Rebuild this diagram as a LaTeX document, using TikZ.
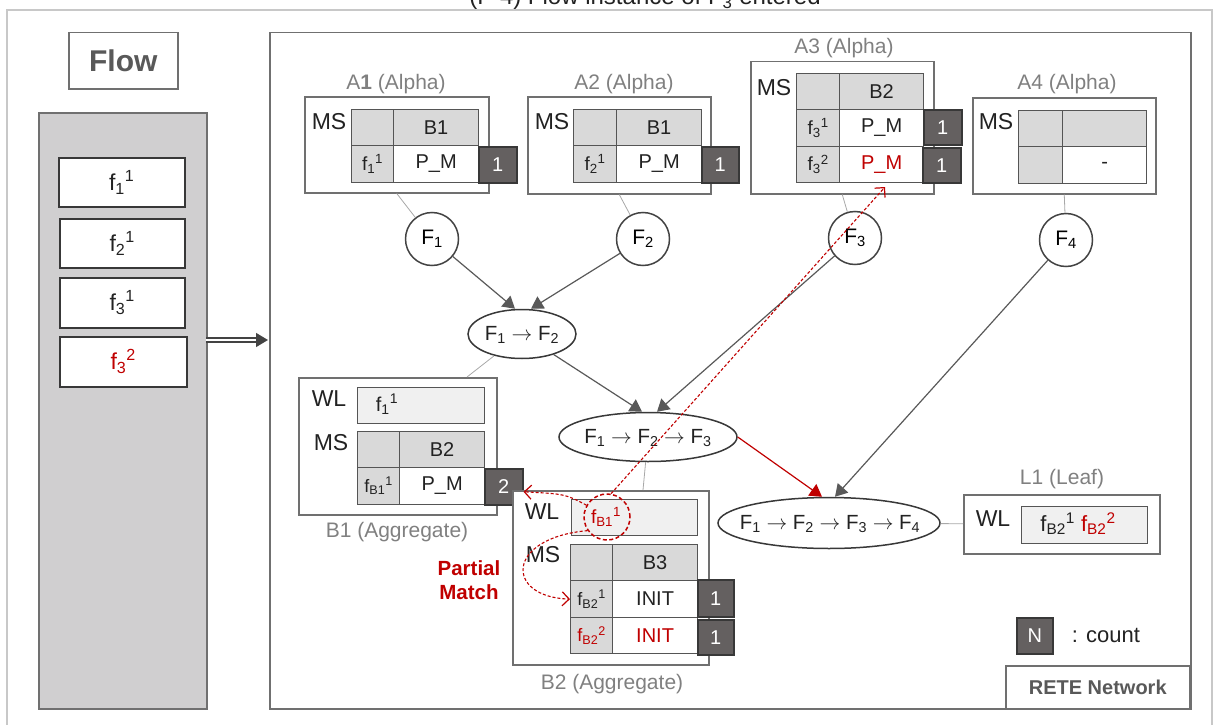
\documentclass[tikz,border=0pt]{standalone}
\usepackage{fontspec}
\setmainfont{Liberation Sans}
\usetikzlibrary{arrows.meta,shapes.geometric,calc}
\definecolor{frm}{HTML}{707070}
\definecolor{lbl}{HTML}{808080}
\definecolor{cellg}{HTML}{D9D9D9}
\definecolor{celld}{HTML}{555555}
\definecolor{wlf}{HTML}{F0F0F0}
\definecolor{cntf}{HTML}{646060}
\definecolor{cntd}{HTML}{383838}
\definecolor{rd}{HTML}{C00000}
\definecolor{ink}{HTML}{222222}
\definecolor{flowg}{HTML}{D0CFD0}
\definecolor{outerc}{HTML}{C8C8C8}
\definecolor{thinc}{HTML}{A8A8A8}
\newcommand{\ff}[2]{f\textsubscript{#1}\textsuperscript{#2}}
\newcommand{\mkcell}[6]{\node[#1, minimum width=#4, minimum height=#5, anchor=north west] (#2) at (#3) {#6};}
\tikzset{
  box/.style={draw=frm, line width=1.5pt, fill=white, inner sep=0pt, anchor=north west},
  lab/.style={text=lbl, inner sep=0pt, font=\fontsize{21}{24}\selectfont},
  tag/.style={text=ink, inner sep=0pt, font=\fontsize{23}{27}\selectfont},
  cellbase/.style={draw=celld, line width=1.2pt, inner sep=0pt, text=ink, font=\fontsize{20}{24}\selectfont},
  gcell/.style={cellbase, fill=cellg},
  wcell/.style={cellbase, fill=white},
  wlcell/.style={cellbase, fill=wlf},
  cnt/.style={draw=cntd, fill=cntf, line width=1.5pt, text=white, inner sep=0pt, anchor=north west, font=\fontsize{20}{24}\selectfont},
  circ/.style={circle, draw=ink!85, line width=1.5pt, fill=white, minimum size=53pt, inner sep=0pt, font=\fontsize{21}{24}\selectfont},
  ell/.style={ellipse, draw=ink!90, line width=1.5pt, fill=white, inner sep=0pt},
  elltxt/.style={inner sep=0pt, text=ink, font=\fontsize{20.5}{24}\selectfont},
  arr/.style={draw=ink!75, line width=1.2pt, -{Triangle[length=12pt,width=14pt]}},
  thinln/.style={draw=thinc, line width=0.8pt},
  rdarr/.style={draw=rd, line width=1.1pt, dash pattern=on 3pt off 2pt, -{Straight Barb[length=7pt,width=14pt,line width=1.2pt]}},
  item/.style={draw=ink!90, line width=1.5pt, fill=white, inner sep=0pt, anchor=north west, text=ink, font=\fontsize{23}{27}\selectfont},
  txt/.style={inner sep=0pt, text=ink, font=\fontsize{19}{23}\selectfont},
}
\begin{document}
\begin{tikzpicture}[x=1pt,y=-1pt]
\useasboundingbox (0,0) rectangle (1228,725);
% title (clipped at the top, as in the reference)
\node[anchor=base, inner sep=0pt, text=ink, font=\fontsize{24}{28}\selectfont] (title) at (645,5) {(F-4) Flow instance of F\textsubscript{3} entered};
% outer light frame
\draw[draw=outerc, line width=1.5pt] (7,725) -- (7,10) -- (1212,10) -- (1212,725);

% ---------------- Flow side ----------------
\node[box, minimum width=109pt, minimum height=56pt, text=ink!75, font=\bfseries\fontsize{30}{34}\selectfont] (flowlbl) at (68,32) {Flow};
\node[draw=frm, line width=1.8pt, fill=flowg, inner sep=0pt, anchor=north west, minimum width=168pt, minimum height=596pt] (col) at (38,112) {};
\node[item, minimum width=126pt, minimum height=49pt] (fi1) at (58,157) {\ff{1}{1}};
\node[item, minimum width=125pt, minimum height=49pt] (fi2) at (59,218) {\ff{2}{1}};
\node[item, minimum width=125pt, minimum height=50pt] (fi3) at (59,277) {\ff{3}{1}};
\node[item, minimum width=127pt, minimum height=50pt, text=rd] (fi4) at (59,336) {\ff{3}{2}};

% ---------------- RETE frame ----------------
\node[box, fill=none, minimum width=921pt, minimum height=676pt] (rete) at (269,32) {};
\node[box, minimum width=184pt, minimum height=43pt, text=ink!75, font=\bfseries\fontsize{20}{24}\selectfont] (retelbl) at (1005,665) {RETE Network};

\coordinate (da) at (206,340);
\coordinate (db) at (268,340);
\draw[draw=ink!85, double=white, double distance=2.5pt, line width=1.3pt, -{Triangle[length=12pt,width=14pt]}] (da) -- (db);

% ---------------- A1 ----------------
\node[box, minimum width=184pt, minimum height=96pt] (a1) at (304,96) {};
\node[lab] (a1l) at (396,84) {A\textbf{1} (Alpha)};
\node[tag] (a1ms) at (329,122) {MS};
\mkcell{gcell}{a1h0}{351,109}{42pt}{36pt}{}
\mkcell{gcell}{a1h1}{393,109}{85pt}{36pt}{B1}
\mkcell{gcell, font=\fontsize{19}{22}\selectfont}{a1r0}{351,145}{42pt}{37pt}{\ff{1}{1}}
\mkcell{wcell}{a1r1}{393,145}{85pt}{37pt}{P\_M}
\node[cnt, minimum width=38pt, minimum height=36pt] (a1c) at (478,146) {1};

% ---------------- A2 ----------------
\node[box, minimum width=183pt, minimum height=97pt] (a2) at (527,96) {};
\node[lab] (a2l) at (624,84) {A2 (Alpha)};
\node[tag] (a2ms) at (552,122) {MS};
\mkcell{gcell}{a2h0}{573,109}{43pt}{36pt}{}
\mkcell{gcell}{a2h1}{616,109}{85pt}{36pt}{B1}
\mkcell{gcell, font=\fontsize{19}{22}\selectfont}{a2r0}{573,145}{43pt}{37pt}{\ff{2}{1}}
\mkcell{wcell}{a2r1}{616,145}{85pt}{37pt}{P\_M}
\node[cnt, minimum width=37pt, minimum height=36pt] (a2c) at (701,146) {1};

% ---------------- A3 ----------------
\node[box, minimum width=183pt, minimum height=132pt] (a3) at (750,61) {};
\node[lab] (a3l) at (844,48) {A3 (Alpha)};
\node[tag] (a3ms) at (774,88) {MS};
\mkcell{gcell}{a3h0}{796,73}{43pt}{36pt}{}
\mkcell{gcell}{a3h1}{839,73}{84pt}{36pt}{B2}
\mkcell{gcell, font=\fontsize{19}{22}\selectfont}{a3r0}{796,109}{43pt}{37pt}{\ff{3}{1}}
\mkcell{wcell}{a3r1}{839,109}{84pt}{37pt}{P\_M}
\mkcell{gcell, font=\fontsize{19}{22}\selectfont}{a3s0}{796,146}{43pt}{36pt}{\ff{3}{2}}
\mkcell{wcell, text=rd}{a3s1}{839,146}{84pt}{36pt}{P\_M}
\node[cnt, minimum width=38pt, minimum height=35pt] (a3c1) at (923,109) {1};
\node[cnt, minimum width=38pt, minimum height=35pt] (a3c2) at (922,147) {1};

% ---------------- A4 ----------------
\node[box, minimum width=183pt, minimum height=96pt] (a4) at (972,97) {};
\node[lab] (a4l) at (1067,84) {A4 (Alpha)};
\node[tag] (a4ms) at (996,122) {MS};
\mkcell{gcell}{a4h0}{1018,110}{44pt}{36pt}{}
\mkcell{gcell}{a4h1}{1062,110}{84pt}{36pt}{}
\mkcell{gcell}{a4r0}{1018,146}{44pt}{37pt}{}
\mkcell{wcell}{a4r1}{1062,146}{84pt}{37pt}{-}

% ---------------- circles and joins ----------------
\node[circ] (F1) at (432,239) {F\textsubscript{1}};
\node[circ] (F2) at (643,239) {F\textsubscript{2}};
\node[circ] (F3) at (855,238) {F\textsubscript{3}};
\node[circ] (F4) at (1066,240) {F\textsubscript{4}};
\draw[thinln] (a1.south) -- (F1);
\draw[thinln] (a2.south) -- (F2);
\draw[thinln] (a3.south) -- (F3);
\draw[thinln] (a4.south) -- (F4);

\node[ell, minimum width=108pt, minimum height=49pt] (E12) at (522,334) {};
\node[elltxt] (E12t) at (522,335) {F\textsubscript{1} $\rightarrow$ F\textsubscript{2}};
\node[ell, minimum width=178pt, minimum height=49pt] (E123) at (648,437) {};
\node[elltxt] (E123t) at (648,438) {F\textsubscript{1} $\rightarrow$ F\textsubscript{2} $\rightarrow$ F\textsubscript{3}};
\node[ell, minimum width=222pt, minimum height=51pt] (E1234) at (829,523) {};
\node[elltxt] (E1234t) at (830,524) {F\textsubscript{1} $\rightarrow$ F\textsubscript{2} $\rightarrow$ F\textsubscript{3} $\rightarrow$ F\textsubscript{4}};

\draw[arr] (F1) -- ([xshift=-7pt]E12.north);
\draw[arr] (F2) -- ([xshift=9pt]E12.north);
\draw[arr] (E12) -- ([xshift=-6pt]E123.north);
\draw[arr] (F3) -- ([xshift=9pt]E123.north);
\draw[arr, draw=rd] (E123.east) -- ([xshift=-7pt]E1234.north);
\draw[arr] (F4) -- ([xshift=6pt]E1234.north);

% ---------------- B1 ----------------
\node[box, minimum width=198pt, minimum height=137pt] (b1) at (298,377) {};
\node[lab] (b1l) at (397,532) {B1 (Aggregate)};
\node[tag] (b1wl) at (329,399) {WL};
\mkcell{wlcell}{b1wlc}{357,387}{127pt}{36pt}{}
\node[txt, font=\fontsize{20}{24}\selectfont] (b1wlt) at (387,404) {\ff{1}{1}};
\node[tag] (b1ms) at (331,443) {MS};
\mkcell{gcell}{b1h0}{357,431}{42pt}{36pt}{}
\mkcell{gcell}{b1h1}{399,431}{85pt}{36pt}{B2}
\mkcell{gcell, font=\fontsize{18}{21}\selectfont}{b1r0}{357,467}{42pt}{37pt}{\ff{B1}{1}}
\mkcell{wcell}{b1r1}{399,467}{85pt}{37pt}{P\_M}
\node[cnt, minimum width=38pt, minimum height=36pt] (b1c) at (484,468) {2};
\draw[thinln] (E12) -- ($(b1.north west)+(169,0)$);

% ---------------- B2 ----------------
\node[box, minimum width=196pt, minimum height=174pt] (b2) at (512,490) {};
\node[lab] (b2l) at (612,684) {B2 (Aggregate)};
\node[tag] (b2wl) at (542,512) {WL};
\mkcell{wlcell}{b2wlc}{571,499}{126pt}{36pt}{}
\node[tag] (b2ms) at (543,555) {MS};
\mkcell{gcell}{b2h0}{570,544}{42pt}{36pt}{}
\mkcell{gcell}{b2h1}{612,544}{85pt}{36pt}{B3}
\mkcell{gcell, font=\fontsize{18}{21}\selectfont}{b2r0}{570,580}{42pt}{37pt}{\ff{B2}{1}}
\mkcell{wcell}{b2r1}{612,580}{85pt}{37pt}{INIT}
\mkcell{gcell, font=\fontsize{18}{21}\selectfont, text=rd}{b2s0}{570,617}{42pt}{36pt}{\ff{B2}{2}}
\mkcell{wcell, text=rd}{b2s1}{612,617}{85pt}{36pt}{INIT}
\node[cnt, minimum width=36pt, minimum height=37pt] (b2c1) at (697,579) {1};
\node[cnt, minimum width=36pt, minimum height=35pt] (b2c2) at (697,619) {1};
\draw[thinln] (E123) -- ($(b2.north west)+(131,0)$);

\node[txt, text=rd, font=\fontsize{19}{23}\selectfont] (b2wlt) at (606,517) {\ff{B1}{1}};
\node[circle, draw=rd, line width=1.5pt, dash pattern=on 4pt off 2.5pt, minimum size=46pt, inner sep=0pt] (rc) at (607,517) {};
\node[align=center, inner sep=0pt, text=rd, font=\bfseries\fontsize{20.5}{24}\selectfont] (pm) at (469,580) {Partial\\Match};

% ---------------- L1 ----------------
\node[box, minimum width=196pt, minimum height=59pt] (l1) at (963,494) {};
\node[lab] (l1l) at (1062,479) {L1 (Leaf)};
\node[tag] (l1wl) at (993,519) {WL};
\mkcell{wlcell}{l1c}{1021,506}{126pt}{37pt}{}
\node[txt, font=\fontsize{22}{26}\selectfont] (l1t) at (1078,524) {\ff{B2}{1} \textcolor{rd}{\ff{B2}{2}}};
\draw[thinln] (E1234) -- (l1);

% ---------------- legend ----------------
\node[cnt, minimum width=36pt, minimum height=36pt] (nbox) at (1016,617) {N};
\node[txt, font=\fontsize{22}{26}\selectfont] (cntl) at (1106,635) {: count};

% ---------------- red dashed arrows ----------------
\coordinate (t3) at (885,187);
\draw[rdarr] (rc.80) -- (t3);
\draw[rdarr] (rc.150) .. controls (565,494) .. ([yshift=-5pt]b1c.east);
\draw[rdarr] (rc.215) .. controls (505,538) and (505,597) .. (b2r0.west);
\end{tikzpicture}
\end{document}
